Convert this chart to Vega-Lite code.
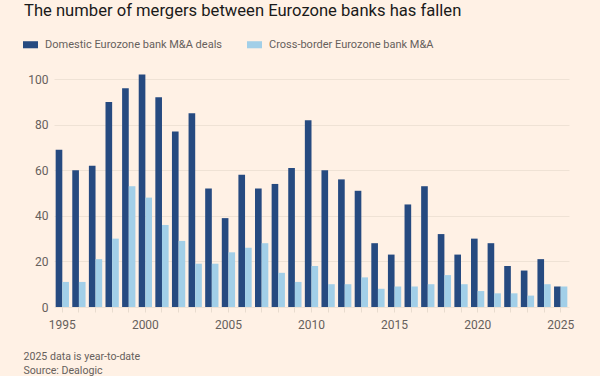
{
  "$schema": "https://vega.github.io/schema/vega-lite/v6.json",
  "width": 515,
  "height": 237,
  "autosize": {"type": "none"},
  "padding": {"left": 54, "top": 70, "right": 31, "bottom": 69},
  "background": "#fff1e5",
  "config": {"view": {"stroke": null}, "font": "Roboto"},
  "title": {
    "text": "The number of mergers between Eurozone banks has fallen",
    "anchor": "start",
    "frame": "group",
    "dx": -30,
    "dy": 19,
    "offset": 23,
    "fontSize": 16.6,
    "fontWeight": "normal",
    "color": "#1a1a1a",
    "baseline": "alphabetic"
  },
  "data": {
    "values": [
      {"year": 1995, "type": "Domestic Eurozone bank M&A deals", "value": 69},
      {"year": 1996, "type": "Domestic Eurozone bank M&A deals", "value": 60},
      {"year": 1997, "type": "Domestic Eurozone bank M&A deals", "value": 62},
      {"year": 1998, "type": "Domestic Eurozone bank M&A deals", "value": 90},
      {"year": 1999, "type": "Domestic Eurozone bank M&A deals", "value": 96},
      {"year": 2000, "type": "Domestic Eurozone bank M&A deals", "value": 102},
      {"year": 2001, "type": "Domestic Eurozone bank M&A deals", "value": 92},
      {"year": 2002, "type": "Domestic Eurozone bank M&A deals", "value": 77},
      {"year": 2003, "type": "Domestic Eurozone bank M&A deals", "value": 85},
      {"year": 2004, "type": "Domestic Eurozone bank M&A deals", "value": 52},
      {"year": 2005, "type": "Domestic Eurozone bank M&A deals", "value": 39},
      {"year": 2006, "type": "Domestic Eurozone bank M&A deals", "value": 58},
      {"year": 2007, "type": "Domestic Eurozone bank M&A deals", "value": 52},
      {"year": 2008, "type": "Domestic Eurozone bank M&A deals", "value": 54},
      {"year": 2009, "type": "Domestic Eurozone bank M&A deals", "value": 61},
      {"year": 2010, "type": "Domestic Eurozone bank M&A deals", "value": 82},
      {"year": 2011, "type": "Domestic Eurozone bank M&A deals", "value": 60},
      {"year": 2012, "type": "Domestic Eurozone bank M&A deals", "value": 56},
      {"year": 2013, "type": "Domestic Eurozone bank M&A deals", "value": 51},
      {"year": 2014, "type": "Domestic Eurozone bank M&A deals", "value": 28},
      {"year": 2015, "type": "Domestic Eurozone bank M&A deals", "value": 23},
      {"year": 2016, "type": "Domestic Eurozone bank M&A deals", "value": 45},
      {"year": 2017, "type": "Domestic Eurozone bank M&A deals", "value": 53},
      {"year": 2018, "type": "Domestic Eurozone bank M&A deals", "value": 32},
      {"year": 2019, "type": "Domestic Eurozone bank M&A deals", "value": 23},
      {"year": 2020, "type": "Domestic Eurozone bank M&A deals", "value": 30},
      {"year": 2021, "type": "Domestic Eurozone bank M&A deals", "value": 28},
      {"year": 2022, "type": "Domestic Eurozone bank M&A deals", "value": 18},
      {"year": 2023, "type": "Domestic Eurozone bank M&A deals", "value": 16},
      {"year": 2024, "type": "Domestic Eurozone bank M&A deals", "value": 21},
      {"year": 2025, "type": "Domestic Eurozone bank M&A deals", "value": 9},
      {"year": 1995, "type": "Cross-border Eurozone bank M&A", "value": 11},
      {"year": 1996, "type": "Cross-border Eurozone bank M&A", "value": 11},
      {"year": 1997, "type": "Cross-border Eurozone bank M&A", "value": 21},
      {"year": 1998, "type": "Cross-border Eurozone bank M&A", "value": 30},
      {"year": 1999, "type": "Cross-border Eurozone bank M&A", "value": 53},
      {"year": 2000, "type": "Cross-border Eurozone bank M&A", "value": 48},
      {"year": 2001, "type": "Cross-border Eurozone bank M&A", "value": 36},
      {"year": 2002, "type": "Cross-border Eurozone bank M&A", "value": 29},
      {"year": 2003, "type": "Cross-border Eurozone bank M&A", "value": 19},
      {"year": 2004, "type": "Cross-border Eurozone bank M&A", "value": 19},
      {"year": 2005, "type": "Cross-border Eurozone bank M&A", "value": 24},
      {"year": 2006, "type": "Cross-border Eurozone bank M&A", "value": 26},
      {"year": 2007, "type": "Cross-border Eurozone bank M&A", "value": 28},
      {"year": 2008, "type": "Cross-border Eurozone bank M&A", "value": 15},
      {"year": 2009, "type": "Cross-border Eurozone bank M&A", "value": 11},
      {"year": 2010, "type": "Cross-border Eurozone bank M&A", "value": 18},
      {"year": 2011, "type": "Cross-border Eurozone bank M&A", "value": 10},
      {"year": 2012, "type": "Cross-border Eurozone bank M&A", "value": 10},
      {"year": 2013, "type": "Cross-border Eurozone bank M&A", "value": 13},
      {"year": 2014, "type": "Cross-border Eurozone bank M&A", "value": 8},
      {"year": 2015, "type": "Cross-border Eurozone bank M&A", "value": 9},
      {"year": 2016, "type": "Cross-border Eurozone bank M&A", "value": 9},
      {"year": 2017, "type": "Cross-border Eurozone bank M&A", "value": 10},
      {"year": 2018, "type": "Cross-border Eurozone bank M&A", "value": 14},
      {"year": 2019, "type": "Cross-border Eurozone bank M&A", "value": 10},
      {"year": 2020, "type": "Cross-border Eurozone bank M&A", "value": 7},
      {"year": 2021, "type": "Cross-border Eurozone bank M&A", "value": 6},
      {"year": 2022, "type": "Cross-border Eurozone bank M&A", "value": 6},
      {"year": 2023, "type": "Cross-border Eurozone bank M&A", "value": 5},
      {"year": 2024, "type": "Cross-border Eurozone bank M&A", "value": 10},
      {"year": 2025, "type": "Cross-border Eurozone bank M&A", "value": 9}
    ]
  },
  "mark": {"type": "bar"},
  "encoding": {
    "x": {
      "field": "year",
      "type": "ordinal",
      "scale": {"paddingInner": 0.2, "paddingOuter": 0.1},
      "axis": {
        "labelExpr": "datum.value % 5 == 0 ? datum.label : ''",
        "labelAngle": 0,
        "labelFontSize": 12,
        "labelColor": "#66605c",
        "labelPadding": 7,
        "domain": false,
        "ticks": true,
        "tickSize": 5,
        "tickColor": "#e9dccf",
        "title": ["2025 data is year-to-date", "Source: Dealogic"],
        "titleAnchor": "start",
        "titleAlign": "left",
        "titleBaseline": "alphabetic",
        "titleX": -31,
        "titleY": 52,
        "titleLineHeight": 14.5,
        "titleFontSize": 10.6,
        "titleFontWeight": "normal",
        "titleColor": "#66605c"
      }
    },
    "xOffset": {
      "field": "type",
      "type": "nominal",
      "sort": ["Domestic Eurozone bank M&A deals", "Cross-border Eurozone bank M&A"]
    },
    "y": {
      "field": "value",
      "type": "quantitative",
      "scale": {"domain": [0, 104], "nice": false},
      "axis": {
        "values": [0, 20, 40, 60, 80, 100],
        "title": null,
        "domain": false,
        "ticks": false,
        "labelPadding": 6,
        "labelFontSize": 12,
        "labelColor": "#66605c",
        "gridColor": "#efe2d5",
        "gridWidth": 1
      }
    },
    "color": {
      "field": "type",
      "type": "nominal",
      "scale": {
        "domain": ["Domestic Eurozone bank M&A deals", "Cross-border Eurozone bank M&A"],
        "range": ["#264a80", "#a2cfe8"]
      },
      "legend": {
        "title": null,
        "orient": "none",
        "legendX": -31,
        "legendY": -33,
        "direction": "horizontal",
        "symbolType": "M-1,-0.47H1V0.47H-1Z",
        "symbolSize": 225,
        "symbolStrokeWidth": 0,
        "labelFontSize": 11,
        "labelLimit": 0,
        "labelColor": "#66605c",
        "labelOffset": 7,
        "columnPadding": 25
      }
    }
  }
}
